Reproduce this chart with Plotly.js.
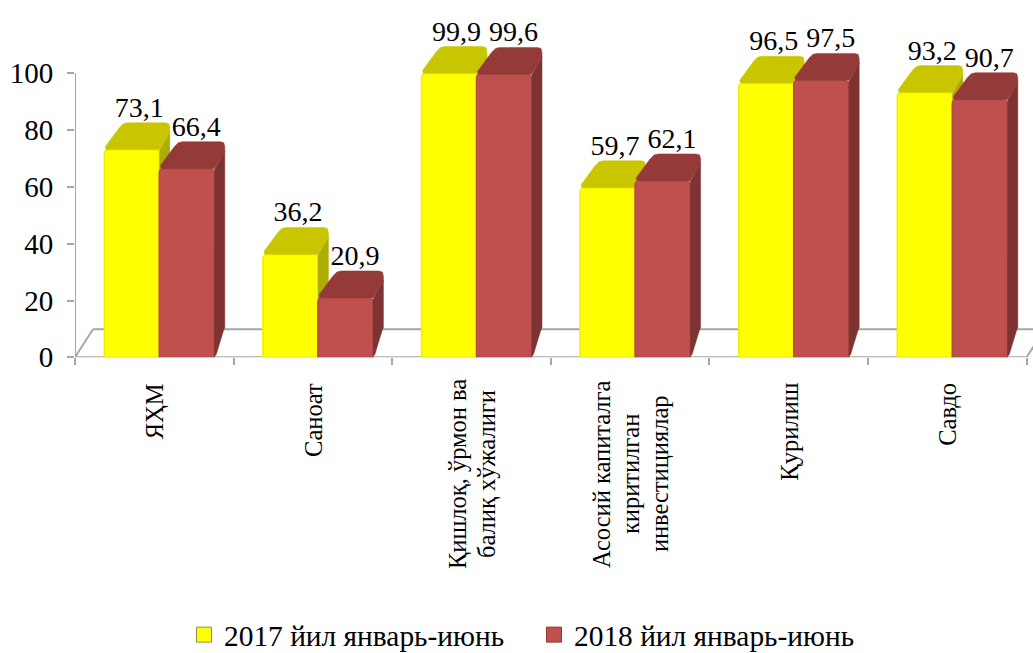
<!DOCTYPE html>
<html>
<head>
<meta charset="utf-8">
<script src="https://cdn.plot.ly/plotly-3.0.1.min.js"></script>
<style>html,body{margin:0;padding:0;background:#fff;overflow:hidden}#chart{width:1033px;height:653px;overflow:hidden}</style>
</head>
<body>
<div id="chart"></div>
<script>
const categories = ["ЯҲМ", "Саноат", "Қишлоқ, ўрмон ва<br>балиқ хўжалиги", "Асосий капиталга<br>киритилган<br>инвестициялар", "Қурилиш", "Савдо"];
const values2017 = [73.1, 36.2, 99.9, 59.7, 96.5, 93.2];
const values2018 = [66.4, 20.9, 99.6, 62.1, 97.5, 90.7];
const name2017 = "2017 йил январь-июнь";
const name2018 = "2018 йил январь-июнь";
const yTicks = [0, 20, 40, 60, 80, 100];

const PX_PER_CAT = 158.6, PX_PER_UNIT = 2.84, PLOT_W = 958, PLOT_H = 357.3, FIG_H = 661;
const dx = p => p / PX_PER_CAT, dy = p => p / PX_PER_UNIT;
const GRAY = "#a6a6a6", FONT = '"Liberation Serif","Times New Roman",serif';
const BAR_W = 55;

function faces(vals, offsetPx) {
  const capX = [], capY = [], sideX = [], sideY = [], barX = [];
  vals.forEach((v, i) => {
    const left = i + 0.5 + dx(offsetPx);
    const P = (px, py) => [left + dx(px), v + dy(py)];
    const cap = [P(2,0),P(1,3),P(15,22),P(19,26),P(23,27),P(61,27),P(64.5,26),P(65.5,22),P(65.5,17),P(55,0)];
    cap.forEach(p => { capX.push(p[0]); capY.push(p[1]); });
    capX.push(null); capY.push(null);
    const side = [P(55,-1),P(65.5,18),[left+dx(65.5),dy(30)],[left+dx(64),dy(26)],[left+dx(57),dy(3)],[left+dx(55),dy(0.5)]];
    side.forEach(p => { sideX.push(p[0]); sideY.push(p[1]); });
    sideX.push(null); sideY.push(null);
    barX.push(left + dx(BAR_W / 2));
  });
  return {capX, capY, sideX, sideY, barX};
}

const f17 = faces(values2017, -50);
const f18 = faces(values2018, 5);
const poly = (x, y, color, xa, ya) => ({type:"scatter", mode:"lines", x, y, fill:"toself", fillcolor:color,
  line:{color:color, width:0.5}, hoverinfo:"skip", showlegend:false, xaxis:xa, yaxis:ya});
const bar = (x, y, color, edge, name, xa, ya) => ({type:"bar", x, y, name, width:dx(BAR_W), showlegend:false,
  marker:{color, line:{color:edge, width:1.5}, cornerradius:4}, xaxis:xa, yaxis:ya});
const labels = (vals, off) => ({type:"scatter", mode:"text", x:vals.map((v,i)=>i+0.5+dx(off)), y:vals.map(v=>v+dy(40)),
  text:vals.map(v=>v.toFixed(1).replace(".",",")), textposition:"middle center",
  textfont:{family:FONT,size:28,color:"#000"}, cliponaxis:false, hoverinfo:"skip", showlegend:false, xaxis:"x2", yaxis:"y2"});
const legendItem = (name, color, edge) => ({type:"scatter", mode:"markers", x:[null], y:[null], name,
  marker:{symbol:"square", size:15, color, line:{color:edge, width:1}}, xaxis:"x", yaxis:"y"});

const traces = [
  poly(f17.sideX, f17.sideY, "#aeac00", "x", "y"),
  poly(f17.capX, f17.capY, "#c9c600", "x", "y"),
  bar(f17.barX, values2017, "#ffff00", "#eeee00", name2017, "x", "y"),
  poly(f18.sideX, f18.sideY, "#7e3231", "x2", "y2"),
  poly(f18.capX, f18.capY, "#943a38", "x2", "y2"),
  bar(f18.barX, values2018, "#c0504d", "#b24a47", name2018, "x2", "y2"),
  labels(values2017, -15),
  labels(values2018, 42),
  legendItem(name2017, "#ffff00", "#8f8f40"),
  legendItem(name2018, "#c0504d", "#953735")
];

const line = (x0,y0,x1,y1) => ({type:"line", xref:"x", yref:"y", x0,y0,x1,y1, layer:"below", line:{color:GRAY,width:2}});
const xRange = [0, PLOT_W / PX_PER_CAT], yRange = [0, PLOT_H / PX_PER_UNIT];
const domain = [1 - PLOT_H / FIG_H, 1];
const LINE_GAP = 29;

const catAnnotations = [];
categories.forEach((c, i) => {
  const parts = c.split("<br>");
  parts.forEach((t, k) => {
    const multi = parts.length > 1;
    catAnnotations.push({
      xref:"x", yref:"paper", x:i + 0.5 + dx((k - (parts.length - 1) / 2) * LINE_GAP),
      y:1 - (multi ? 474 : 382) / FIG_H, yanchor:multi ? "middle" : "top", xanchor:"center",
      text:t, textangle:-90, showarrow:false, borderpad:0,
      font:{family:FONT,size:24.5,color:"#000"}
    });
  });
});

const layout = {
  width:1033, height:FIG_H, paper_bgcolor:"#fff", plot_bgcolor:"#fff",
  margin:{l:75, r:0, t:0, b:0, pad:0},
  font:{family:FONT, color:"#000"},
  barmode:"overlay",
  xaxis:{range:xRange, showgrid:false, zeroline:false, showline:false, tickmode:"array",
    tickvals:[0,1,2,3,4,5,6], ticktext:["","","","","","",""], ticks:"outside", ticklen:7, tickwidth:2, tickcolor:GRAY, fixedrange:true, anchor:"y"},
  yaxis:{domain, range:yRange, showgrid:false, zeroline:false, showline:false, tickmode:"array",
    tickvals:yTicks, ticktext:yTicks.map(String), ticks:"outside", ticklen:7, tickwidth:2, tickcolor:GRAY,
    ticklabelstandoff:8, tickfont:{family:FONT,size:29,color:"#000"}, fixedrange:true},
  xaxis2:{range:xRange, overlaying:"x", visible:false, fixedrange:true, anchor:"y2"},
  yaxis2:{domain, range:yRange, overlaying:"y", visible:false, fixedrange:true},
  shapes:[
    line(0,0,6,0), line(0,0,0,100),
    line(0,0,dx(18),dy(28)), line(dx(18),dy(28),xRange[1],dy(28)), line(6,0,6+dx(18),dy(28))
  ],
  annotations:catAnnotations,
  legend:{orientation:"h", x:(184-75)/PLOT_W, xanchor:"left", y:0, yanchor:"bottom",
    font:{family:FONT,size:29.4,color:"#000"}, entrywidth:305, entrywidthmode:"pixels", bgcolor:"rgba(0,0,0,0)", traceorder:"normal"}
};
Plotly.newPlot("chart", traces, layout, {displayModeBar:false, responsive:false});
</script>
</body>
</html>
